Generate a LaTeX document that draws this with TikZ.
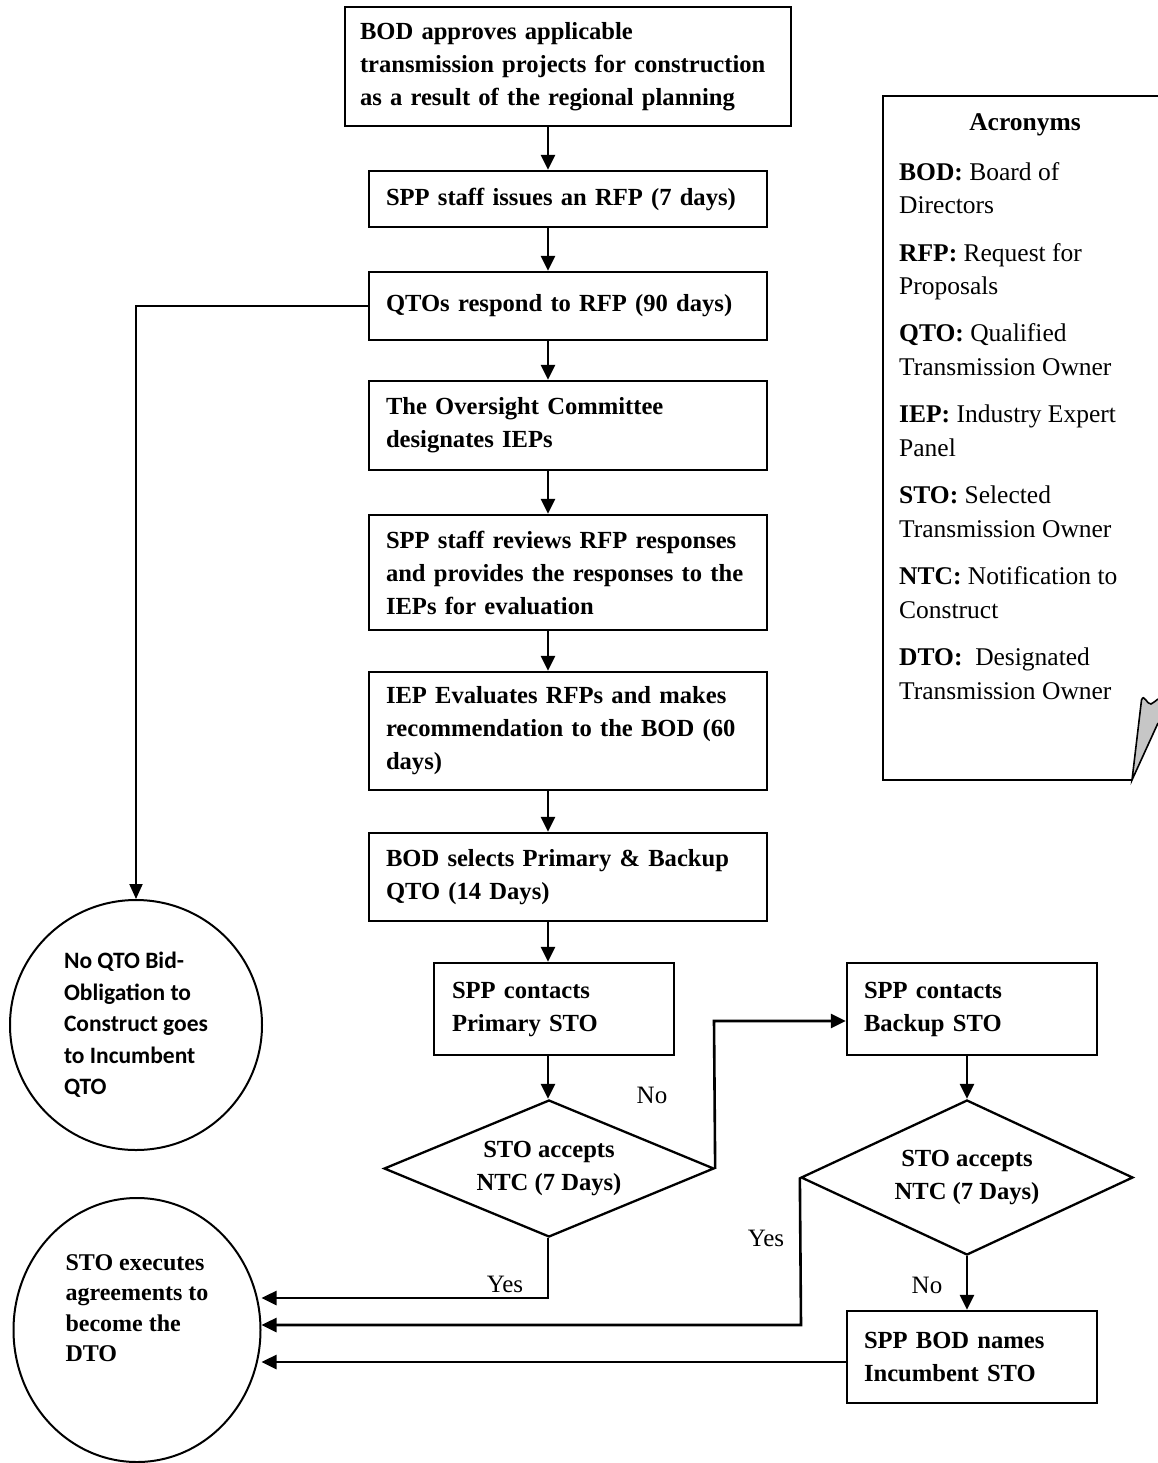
\documentclass[tikz,border=0pt]{standalone}
\usepackage{fontspec}
\setmainfont{Liberation Serif}
\newfontfamily\calibrifont{Carlito}
\usepackage{tikz}
\usetikzlibrary{shapes.geometric,arrows.meta}
\tikzset{
    every node/.style={inner sep=0pt}
}
\tikzset{
    stepbox/.style={draw, rectangle, line width=2.3pt, inner xsep=17pt, align=left, font=\fontsize{24.6}{33}\selectfont\bfseries},
    decision/.style={draw, diamond, aspect=2.4, line width=2.3pt, align=center, font=\fontsize{24.6}{33}\selectfont\bfseries},
    endcircle/.style={draw, ellipse, line width=2pt, align=left},
    flow/.style={line width=2.6pt, -{Triangle[length=15pt,width=14pt]}},
    sideflow/.style={line width=2pt, -{Triangle[length=15pt,width=13pt]}},
    answer/.style={font=\fontsize{25}{30}\selectfont},
    notepad/.style={line width=2pt}
}

\begin{document}
\begin{tikzpicture}[x=1pt, y=-1pt]
        \useasboundingbox (0,0) rectangle (1158,1463);
        \coordinate (spine) at (548,0);
        \node (approve) [stepbox, inner xsep=15pt, text width=416pt, minimum height=119pt] at (568,66.5) {BOD approves applicable\\transmission projects for construction\\as a result of the regional planning};
        \node (issue) [stepbox, text width=364pt, minimum height=56pt] at (568,199) {SPP staff issues an RFP (7 days)};
        \node (respond) [stepbox, text width=364pt, minimum height=68pt] at (568,306) {QTOs respond to RFP (90 days)};
        \node (designate) [stepbox, text width=364pt, minimum height=89pt] at (568,425.5) {The Oversight Committee\\designates IEPs};
        \node (review) [stepbox, text width=364pt, minimum height=115pt] at (568,572.5) {SPP staff reviews RFP responses\\and provides the responses to the\\IEPs for evaluation};
        \node (evaluate) [stepbox, text width=364pt, minimum height=118pt] at (568,731) {IEP Evaluates RFPs and makes\\recommendation to the BOD (60\\days)};
        \node (select) [stepbox, text width=364pt, minimum height=88pt] at (568,877) {BOD selects Primary \& Backup\\QTO (14 Days)};
        \node (primary) [stepbox, inner xsep=18pt, text width=204pt, minimum height=92pt] at (554,1009) {SPP contacts\\Primary STO};
        \node (backup) [stepbox, text width=216pt, minimum height=92pt] at (972,1009) {SPP contacts\\Backup STO};
        \node (bodnames) [stepbox, text width=216pt, minimum height=92pt] at (972,1357) {SPP BOD names\\Incumbent STO};
        \node (accept1) [decision, minimum width=330pt, minimum height=137pt] at (549,1168.5) {STO accepts\\NTC (7 Days)};
        \node (accept2) [decision, minimum width=332pt, minimum height=155pt] at (967,1177.5) {STO accepts\\NTC (7 Days)};
        \node (noqto) [endcircle, minimum width=252pt, minimum height=250pt, font=\fontsize{23.5}{31.5}\selectfont\calibrifont\bfseries] at (136,1025) {No QTO Bid-\\Obligation to\\Construct goes\\to Incumbent\\QTO};
        \node (dto) [endcircle, minimum width=247pt, minimum height=264pt] at (137,1330) {};
        \node (dtotext) [align=left, font=\fontsize{24}{30.5}\selectfont\bfseries] at (137,1308) {STO executes\\agreements to\\become the\\DTO};
        \node (no1) [answer] at (652,1095) {No};
        \node (no2) [answer] at (927,1285) {No};
        \node (yes1) [answer] at (505,1284) {Yes};
        \node (yes2) [answer] at (766,1238) {Yes};
        % acronyms sheet
        \draw[notepad] (1158,96) -- (883,96) -- (883,780) -- (1132,780);
        \fill[gray!45] (1132,780) -- (1141.5,700) .. controls (1144,693) and (1147,705) .. (1151,704) .. controls (1154,703) and (1156,700) .. (1158,699) -- (1158,723) -- cycle;
        \draw[line width=1.6pt] (1158,723) -- (1132,780) -- (1141.5,700) .. controls (1144,693) and (1147,705) .. (1151,704) .. controls (1154,703) and (1156,700) .. (1158,699);
        \node (acrohead) [font=\fontsize{25.5}{33}\selectfont\bfseries] at (1025,125) {Acronyms};
        \node (acrolist) [anchor=north west, align=left, font=\fontsize{25.5}{33.7}\selectfont] at (899,162) {\textbf{BOD:} Board of\\Directors\\[13.5pt]\textbf{RFP:} Request for\\Proposals\\[13.5pt]\textbf{QTO:} Qualified\\Transmission Owner\\[13.5pt]\textbf{IEP:} Industry Expert\\Panel\\[13.5pt]\textbf{STO:} Selected\\Transmission Owner\\[13.5pt]\textbf{NTC:} Notification to\\Construct\\[13.5pt]\textbf{DTO:}~ Designated\\Transmission Owner};
        % turning points
        \coordinate (nobend) at (714,1021);
        \coordinate (yesbend1) at (548,1298);
        \coordinate (yesbend2) at (801,1325);
        \coordinate (incumbent) at (847,1362);
        \draw[flow] (approve.south -| spine) -- (issue.north -| spine);
        \draw[flow] (issue.south -| spine) -- (respond.north -| spine);
        \draw[flow] (respond.south -| spine) -- (designate.north -| spine);
        \draw[flow] (designate.south -| spine) -- (review.north -| spine);
        \draw[flow] (review.south -| spine) -- (evaluate.north -| spine);
        \draw[flow] (evaluate.south -| spine) -- (select.north -| spine);
        \draw[flow] (select.south -| spine) -- (primary.north -| spine);
        \draw[flow] (primary.south -| spine) -- (accept1.north -| spine);
        \draw[sideflow] (respond.west) -| (noqto.north);
        \draw[flow] (accept1.east) -- (nobend) -- (nobend -| backup.west);
        \draw[flow] (backup.south -| accept2.north) -- (accept2.north);
        \draw[flow] (accept2.south) -- (bodnames.north -| accept2.south);
        \draw[flow] (accept1.south -| spine) -- (yesbend1) -- (yesbend1 -| dto.east);
        \draw[flow] (accept2.west) -- (yesbend2) -- (yesbend2 -| dto.east);
        \draw[flow] (incumbent) -- (incumbent -| dto.east);
\end{tikzpicture}
\end{document}
